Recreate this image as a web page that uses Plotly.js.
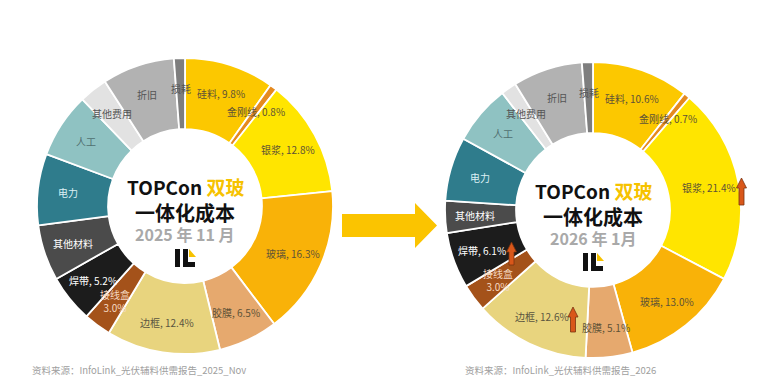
<!DOCTYPE html>
<html><head><meta charset="utf-8">
<script src="https://cdn.plot.ly/plotly-3.0.1.min.js"></script>
<style>html,body{margin:0;padding:0;background:#fff}#chart{width:765px;height:387px}</style>
</head><body><div id="chart"></div>
<script>
// ---- data ----
const categories = ['硅料','金刚线','银浆','玻璃','胶膜','边框','接线盒','焊带','其他材料','电力','人工','其他费用','折旧','损耗'];
const values2025Nov = [9.8, 0.8, 12.8, 16.3, 6.5, 12.4, 3.0, 5.2, 6.1, 7.8, 7.1, 3.1, 7.9, 1.2];
const values2026Jan = [10.6, 0.7, 21.4, 13.0, 5.1, 12.6, 3.0, 6.1, 3.5, 7.0, 6.5, 1.7, 7.6, 1.2];
const labelledCats = ['硅料','金刚线','银浆','玻璃','胶膜','边框','接线盒','焊带'];
const titleLine1 = 'TOPCon ';
const titleHighlight = '双玻';
const titleLine2 = '一体化成本';
const periodLeft = '2025 年 11 月';
const periodRight = '2026 年 1月';
const sourceLeft = '资料来源：InfoLink_光伏辅料供需报告_2025_Nov';
const sourceRight = '资料来源：InfoLink_光伏辅料供需报告_2026';

// ---- styles ----
const sliceColors = ['#FCC800','#E58A1F','#FFE500','#F9B208','#E6A96E','#E8D47E','#A4521A','#1C1C1C','#4B4B4B','#2F7C8C','#8FC2C2','#E2E2E2','#B2B2B2','#7E7E7E'];
const labelColors = ['#5E5236','#5E5236','#5E5236','#5E5236','#5E5236','#5A5440','#F6D9C2','#FFFFFF','#FFFFFF','#DDF0F4','#4F6F70','#555555','#555555','#555555'];
const W = 765, H = 387, R = 148, HOLE = 0.52, LABEL_R = 118;
const FONT = '"Noto Sans CJK SC", "Noto Sans", sans-serif';
const px = (x) => x / W;
const py = (y) => 1 - y / H;

const pies = [
  {values: values2025Nov, cx: 185, cy: 206, period: periodLeft, source: sourceLeft, sx: 30},
  {values: values2026Jan, cx: 593, cy: 210, period: periodRight, source: sourceRight, sx: 463}
];

const traces = [];
const annotations = [];
const shapes = [];

pies.forEach(p => {
  traces.push({
    type: 'pie', values: p.values, labels: categories, sort: false,
    direction: 'clockwise', rotation: 0, hole: HOLE,
    marker: {colors: sliceColors, line: {color: '#FFFFFF', width: 1.8}},
    textinfo: 'none', hoverinfo: 'label+value',
    domain: {x: [px(p.cx - R), px(p.cx + R)], y: [py(p.cy + R), py(p.cy - R)]}
  });
  const total = p.values.reduce((a, b) => a + b, 0);
  let cum = 0;
  p.values.forEach((v, i) => {
    const mid = (cum + v / 2) / total * 2 * Math.PI;
    cum += v;
    const lx = p.cx + LABEL_R * Math.sin(mid);
    const ly = p.cy - LABEL_R * Math.cos(mid);
    const cat = categories[i];
    let txt = cat;
    if (labelledCats.includes(cat)) {
      txt = cat === '接线盒' ? cat + '<br>' + v.toFixed(1) + '%' : cat + ', ' + v.toFixed(1) + '%';
    }
    annotations.push({x: px(lx), y: py(ly), xref: 'paper', yref: 'paper', text: txt,
      showarrow: false, xanchor: 'center', yanchor: 'middle',
      font: {family: FONT, size: 10, color: labelColors[i]}});
  });
  // centre text
  annotations.push({x: px(p.cx), y: py(p.cy - 20), xref: 'paper', yref: 'paper', showarrow: false,
    text: '<b>' + titleLine1 + '<span style="color:#F6C200">' + titleHighlight + '</span></b>',
    font: {family: FONT, size: 19, color: '#111111'}, xanchor: 'center', yanchor: 'middle'});
  annotations.push({x: px(p.cx), y: py(p.cy + 6), xref: 'paper', yref: 'paper', showarrow: false,
    text: '<b>' + titleLine2 + '</b>', font: {family: FONT, size: 20, color: '#111111'}, xanchor: 'center', yanchor: 'middle'});
  annotations.push({x: px(p.cx), y: py(p.cy + 28), xref: 'paper', yref: 'paper', showarrow: false,
    text: '<b>' + p.period + '</b>', font: {family: FONT, size: 16, color: '#A9A9A9'}, xanchor: 'center', yanchor: 'middle'});
  annotations.push({x: px(p.sx), y: py(370), xref: 'paper', yref: 'paper', showarrow: false,
    text: p.source, font: {family: FONT, size: 9.5, color: '#A0A0A0'}, xanchor: 'left', yanchor: 'middle'});
  // logo
  const c = p.cx, t = p.cy + 43;
  const rect = (x0, y0, x1, y1, col) => shapes.push({type: 'rect', xref: 'paper', yref: 'paper',
    x0: px(x0), x1: px(x1), y0: py(y1), y1: py(y0), fillcolor: col, line: {width: 0}});
  rect(c - 10, t, c - 5, t + 18, '#111111');
  rect(c - 2, t, c + 3, t + 18, '#111111');
  rect(c - 2, t + 13, c + 10, t + 18, '#111111');
  shapes.push({type: 'path', xref: 'paper', yref: 'paper',
    path: `M${px(c + 4)},${py(t)} L${px(c + 4)},${py(t + 8)} L${px(c + 11)},${py(t + 8)} Z`,
    fillcolor: '#F6C200', line: {width: 0}});
});

function pathPx(pts) {
  return 'M' + pts.map(q => px(q[0]) + ',' + py(q[1])).join(' L') + ' Z';
}
// big arrow
shapes.push({type: 'path', xref: 'paper', yref: 'paper',
  path: pathPx([[342,214],[415,214],[415,203],[437,225.5],[415,248],[415,237],[342,237]]),
  fillcolor: '#FBC400', line: {width: 0}});
// small rising arrows
function upArrow(x, y0, y1) {
  shapes.push({type: 'path', xref: 'paper', yref: 'paper',
    path: pathPx([[x - 2.5, y1],[x - 2.5, y0 + 10],[x - 5, y0 + 10],[x, y0],[x + 5, y0 + 10],[x + 2.5, y0 + 10],[x + 2.5, y1]]),
    fillcolor: '#D9571A', line: {color: '#7A3210', width: 0.8}});
}
upArrow(741.5, 178, 205);
upArrow(511.5, 242, 265);
upArrow(573, 307, 332);

Plotly.newPlot('chart', traces, {
  width: W, height: H, margin: {l: 0, r: 0, t: 0, b: 0},
  paper_bgcolor: '#FFFFFF', plot_bgcolor: '#FFFFFF', showlegend: false,
  annotations: annotations, shapes: shapes
}, {displayModeBar: false, staticPlot: true});
</script>
</body></html>
